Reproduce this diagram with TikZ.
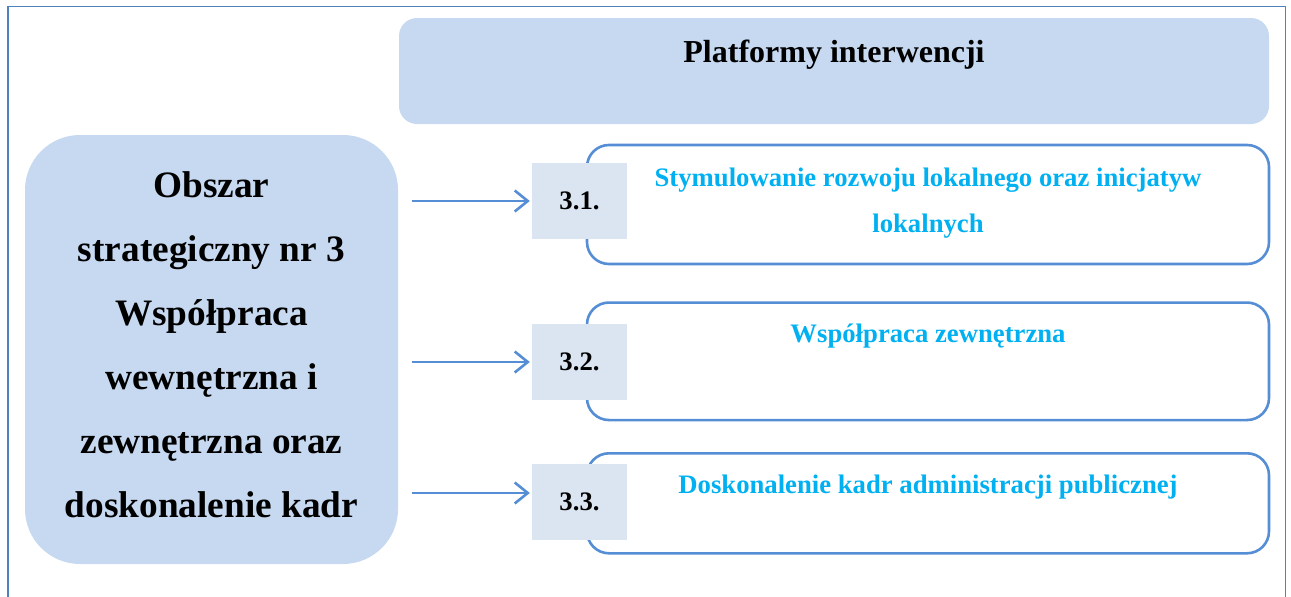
\documentclass[tikz,border=0pt]{standalone}
\usepackage{fontspec}
\setmainfont{Liberation Serif}
\usetikzlibrary{arrows.meta}
\definecolor{fillblue}{HTML}{C6D9F1}
\definecolor{numfill}{HTML}{DBE5F1}
\definecolor{edgeblue}{HTML}{558ED5}
\definecolor{arrblue}{HTML}{4F81BD}
\definecolor{textblue}{HTML}{00B0F0}
\definecolor{framecol}{HTML}{4F81BD}
\begin{document}
\begin{tikzpicture}[x=1pt,y=-1pt,
 lightbox/.style={fill=fillblue, draw=none, rectangle, inner sep=0pt},
 numbox/.style={fill=numfill, minimum width=95pt, minimum height=76pt, inner sep=0pt, font=\fontsize{26.7}{30}\selectfont\bfseries},
 itembox/.style={draw=edgeblue, line width=2.6pt, rounded corners=22pt, minimum width=682pt, inner sep=0pt},
 bluetext/.style={text=textblue, anchor=base, inner sep=0pt, font=\fontsize{26.7}{30}\selectfont\bfseries},
 lefttext/.style={anchor=base, inner sep=0pt, font=\fontsize{37.3}{40}\selectfont\bfseries},
 toptext/.style={anchor=base, inner sep=0pt, font=\fontsize{32}{36}\selectfont\bfseries},
 link/.style={draw=edgeblue, line width=2.6pt, -{Straight Barb[length=13pt,width=21pt,line width=2.6pt]}}
]
\useasboundingbox (0,0) rectangle (1291,597);
\clip (0,0) rectangle (1291,597);
% outer frame
\draw[framecol, line width=1.8pt] (8,620) -- (8,6.5) -- (1285.5,6.5) -- (1285.5,620);

% top box
\node[lightbox, rounded corners=18pt, minimum width=870pt, minimum height=106pt] (top) at (834,71) {};
\node[toptext] (toplabel) at (834,62) {Platformy interwencji};

% left box
\node[lightbox, rounded corners=55pt, minimum width=373pt, minimum height=429pt] (area) at (211.5,349.5) {};
\foreach \t [count=\i] in {Obszar, strategiczny nr 3, Współpraca, wewnętrzna i, zewnętrzna oraz, doskonalenie kadr}
  \node[lefttext] (l\i) at (211.5,{133+64*\i}) {\t};

% item boxes
\node[itembox, minimum height=119pt] (b1) at (928,204.5) {};
\node[itembox, minimum height=117.5pt] (b2) at (928,361.3) {};
\node[itembox, minimum height=100pt] (b3) at (928,503.3) {};

% number boxes
\node[numbox] (n1) at (579.5,200.5) {3.1.};
\node[numbox] (n2) at (579.5,362) {3.2.};
\node[numbox] (n3) at (579.5,502) {3.3.};

% item texts
\node[bluetext] (t1a) at (928,186) {Stymulowanie rozwoju lokalnego oraz inicjatyw};
\node[bluetext] (t1b) at (928,232) {lokalnych};
\node[bluetext] (t2) at (928,342.7) {Współpraca zewnętrzna};
\node[bluetext] (t3) at (928,493.3) {Doskonalenie kadr administracji publicznej};

% arrows
\coordinate (s1) at (412,201);
\coordinate (s2) at (412,362);
\coordinate (s3) at (412,493);
\draw[link, shorten >=2pt] (s1) -- (s1 -| n1.west);
\draw[link, shorten >=2pt] (s2) -- (s2 -| n2.west);
\draw[link, shorten >=2pt] (s3) -- (s3 -| n3.west);
\end{tikzpicture}
\end{document}
